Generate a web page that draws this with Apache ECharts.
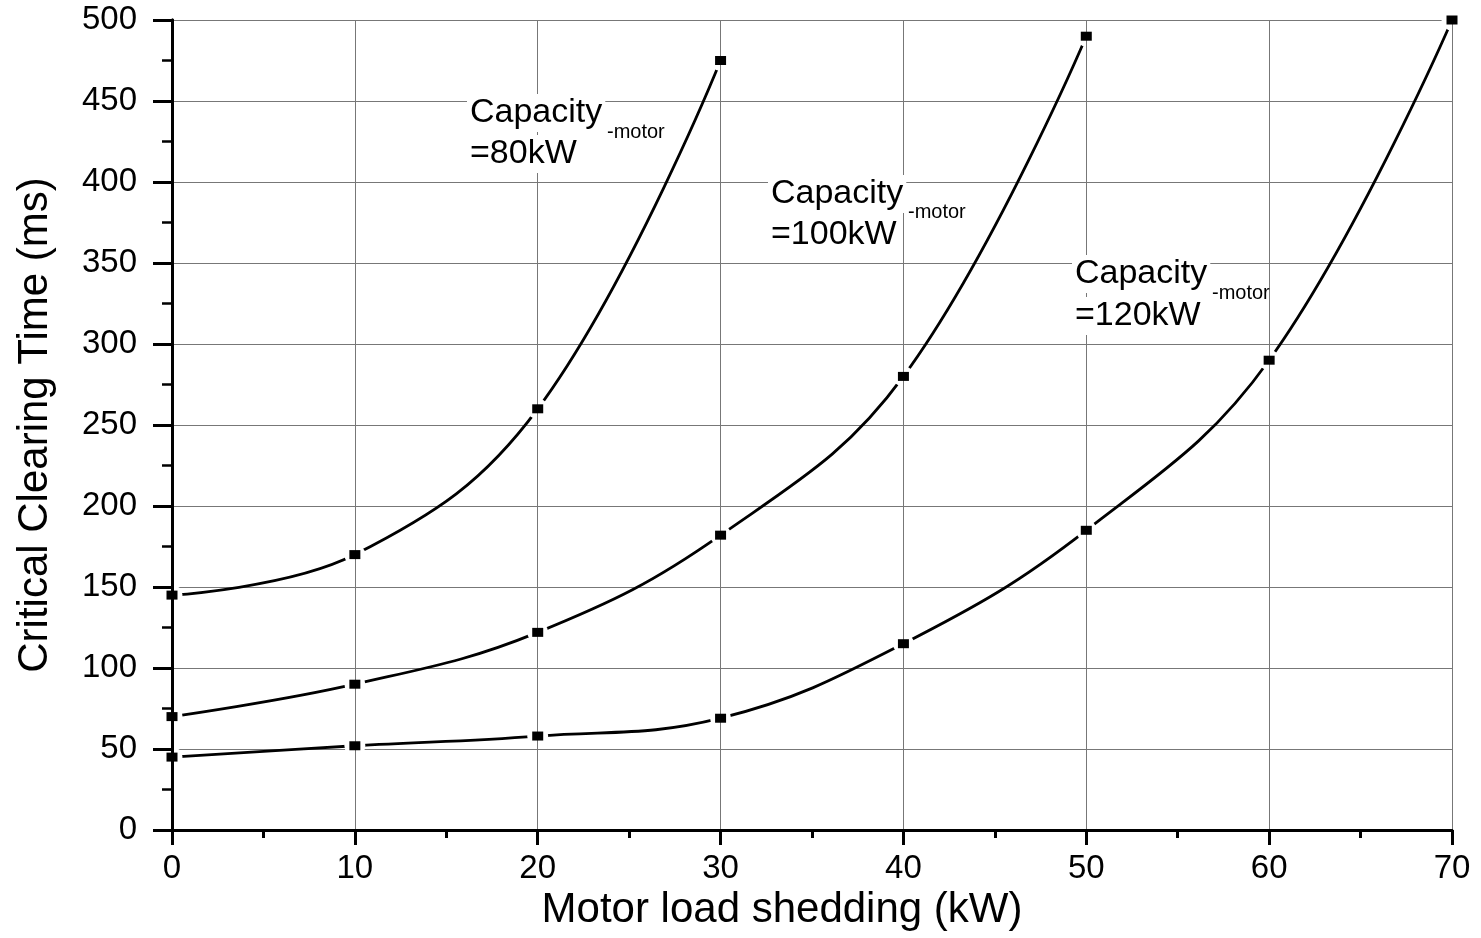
<!DOCTYPE html>
<html>
<head>
<meta charset="utf-8">
<title>Critical Clearing Time</title>
<script src="https://cdn.jsdelivr.net/npm/echarts@6/dist/echarts.min.js"></script>
<style>
  html, body { margin: 0; padding: 0; background: #fff; }
  #main { width: 1481px; height: 938px; }
</style>
</head>
<body>
<div id="main"></div>
<script>
// 横坐标：电机切负荷 (kW)
var loads = [0, 10, 20, 30, 40, 50, 60, 70];
// 三条曲线的临界切除时间 (ms)，按电机容量区分
var cct80 = [145, 170, 260, 475];
var cct100 = [70, 90, 122, 182, 280, 490];
var cct120 = [45, 52, 58, 69, 115, 185, 290, 500];
var yTicks = [0, 50, 100, 150, 200, 250, 300, 350, 400, 450, 500];

var FONT = 'Liberation Sans, Arial, sans-serif';

function pairs(vals) {
    var out = [];
    for (var i = 0; i < vals.length; i++) {
        out.push([loads[i], vals[i]]);
    }
    return out;
}

var curves = [
    {name: '80kW', data: pairs(cct80)},
    {name: '100kW', data: pairs(cct100)},
    {name: '120kW', data: pairs(cct120)}
];

var series = [];
curves.forEach(function (c) {
    // 线 + 白色符号，做出 Origin 那种断开的效果
    series.push({
        name: c.name,
        type: 'line',
        data: c.data,
        smooth: 0.4,
        z: 2,
        symbol: 'circle',
        symbolSize: 21,
        showSymbol: true,
        itemStyle: {color: '#fff', borderWidth: 0, opacity: 1},
        lineStyle: {color: '#000', width: 2.8},
        emphasis: {disabled: true},
        silent: true
    });
    // 黑色方块
    series.push({
        name: c.name,
        type: 'scatter',
        data: c.data,
        z: 4,
        symbol: 'rect',
        symbolSize: [11, 9],
        itemStyle: {color: '#000', opacity: 1},
        emphasis: {disabled: true},
        silent: true
    });
});

function annotation(left, top, size, text) {
    return {
        type: 'text',
        left: left,
        top: top,
        z: 5,
        style: {
            text: text,
            font: size + 'px ' + FONT,
            fill: '#000',
            backgroundColor: size > 25 ? '#fff' : 'transparent',
            padding: [2, 3]
        }
    };
}

var myChart = echarts.init(document.getElementById('main'));

var option = {
    backgroundColor: '#fff',
    animation: false,
    grid: {left: 172, right: 29, top: 20, bottom: 108},
    xAxis: [
        {
            type: 'value',
            min: 0, max: 70, interval: 10,
            position: 'bottom',
            z: 6,
            name: 'Motor load shedding (kW)',
            nameLocation: 'middle',
            nameGap: 50,
            nameTextStyle: {fontFamily: FONT, fontSize: 42, color: '#000', padding: [0, 60, 0, 0]},
            axisLine: {show: true, onZero: false, lineStyle: {color: '#000', width: 3}},
            axisTick: {show: true, length: 15, lineStyle: {color: '#000', width: 3}},
            minorTick: {show: true, splitNumber: 2, length: 8, lineStyle: {color: '#000', width: 3}},
            axisLabel: {fontFamily: FONT, fontSize: 33, color: '#000', margin: 22},
            splitLine: {show: false}
        },
        {
            // 竖向网格线放在曲线上面，只露在断口处
            type: 'value',
            min: 0, max: 70, interval: 10,
            position: 'top',
            z: 3,
            axisLine: {show: true, lineStyle: {color: '#000', width: 2}},
            axisTick: {show: false},
            axisLabel: {show: false},
            splitLine: {show: true, lineStyle: {color: '#777', width: 1}}
        }
    ],
    yAxis: [
        {
            type: 'value',
            min: 0, max: 500, interval: 50,
            position: 'left',
            z: 6,
            name: 'Critical Clearing Time (ms)',
            nameLocation: 'middle',
            nameGap: 116,
            nameTextStyle: {fontFamily: FONT, fontSize: 42, color: '#000'},
            axisLine: {show: true, onZero: false, lineStyle: {color: '#000', width: 3}},
            axisTick: {show: true, length: 19, lineStyle: {color: '#000', width: 3}},
            minorTick: {show: true, splitNumber: 2, length: 10, lineStyle: {color: '#000', width: 2.5}},
            axisLabel: {
                fontFamily: FONT, fontSize: 33, color: '#000', margin: 35,
                formatter: function (v) { return yTicks.indexOf(v) >= 0 ? String(v) : ''; }
            },
            splitLine: {show: false}
        },
        {
            type: 'value',
            min: 0, max: 500, interval: 50,
            position: 'right',
            z: 0,
            axisLine: {show: true, lineStyle: {color: '#000', width: 3}},
            axisTick: {show: false},
            axisLabel: {show: false},
            splitLine: {show: true, lineStyle: {color: '#777', width: 1}}
        }
    ],
    graphic: [
        annotation(467, 94, 34, 'Capacity'),
        annotation(467, 135, 34, '=80kW'),
        annotation(604, 120, 20, '-motor'),
        annotation(768, 175, 34, 'Capacity'),
        annotation(768, 216, 34, '=100kW'),
        annotation(905, 200, 20, '-motor'),
        annotation(1072, 255, 34, 'Capacity'),
        annotation(1072, 297, 34, '=120kW'),
        annotation(1209, 281, 20, '-motor')
    ],
    series: series
};

myChart.setOption(option);
</script>
</body>
</html>
